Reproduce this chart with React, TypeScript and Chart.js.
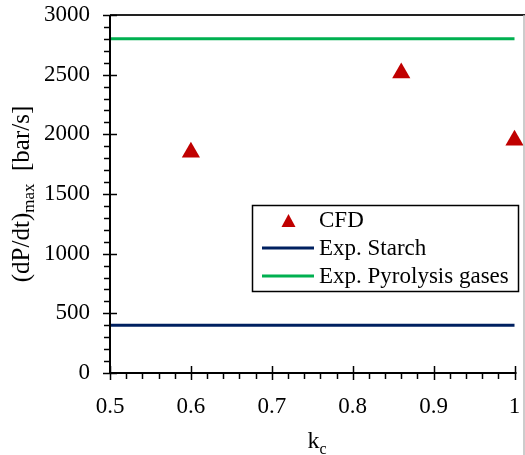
import React, { useEffect, useRef } from "react";
import { Chart, registerables } from "chart.js";

Chart.register(...registerables);

const kcValues = [0.6, 0.86, 1.0];
const cfdValues = [1850, 2515, 1950];
const expStarch = 400;
const expPyrolysis = 2800;
const xRange = [0.5, 1.0];
const yTicks = [0, 500, 1000, 1500, 2000, 2500, 3000];
const xTicks = [0.5, 0.6, 0.7, 0.8, 0.9, 1.0];
const legendLabels = ["CFD", "Exp. Starch", "Exp. Pyrolysis gases"];

const FONT = "'Liberation Serif', 'Times New Roman', serif";
const TARGET = { left: 110, right: 517, top: 15, bottom: 373 };

const axisPlugin = {
  id: "customAxes",
  afterDraw(chart: any) {
    const ctx = chart.ctx;
    const xs = chart.scales.x;
    const ys = chart.scales.y;
    const { left, right, top, bottom } = chart.chartArea;
    ctx.save();
    ctx.strokeStyle = "#000";
    ctx.lineWidth = 2;
    ctx.beginPath();
    ctx.moveTo(left, top);
    ctx.lineTo(left, bottom);
    ctx.lineTo(right + 2, bottom);
    ctx.stroke();
    ctx.strokeStyle = "#222";
    ctx.beginPath();
    ctx.moveTo(left, top);
    ctx.lineTo(525, top);
    ctx.stroke();
    ctx.strokeStyle = "#bbb";
    ctx.lineWidth = 1.5;
    ctx.beginPath();
    ctx.moveTo(524, top);
    ctx.lineTo(524, 455);
    ctx.stroke();

    ctx.strokeStyle = "#000";
    ctx.lineWidth = 1.5;
    for (let v = 0; v <= 3000; v += 100) {
      const y = Math.round(ys.getPixelForValue(v)) + 0.5;
      const major = v % 500 === 0;
      ctx.beginPath();
      if (major) {
        ctx.moveTo(left - 7, y);
        ctx.lineTo(left + 7, y);
      } else {
        ctx.moveTo(left - 6, y);
        ctx.lineTo(left, y);
      }
      ctx.stroke();
    }
    for (let i = 0; i <= 25; i++) {
      const v = 0.5 + i * 0.02;
      const x = Math.round(xs.getPixelForValue(v)) + 0.5;
      const major = i % 5 === 0;
      ctx.beginPath();
      if (major) {
        ctx.moveTo(x, bottom - 7);
        ctx.lineTo(x, bottom + 7);
      } else {
        ctx.moveTo(x, bottom);
        ctx.lineTo(x, bottom + 6);
      }
      ctx.stroke();
    }

    ctx.fillStyle = "#000";
    ctx.textBaseline = "alphabetic";
    ctx.font = `24px ${FONT}`;
    const kW = ctx.measureText("k").width;
    ctx.font = `16px ${FONT}`;
    const cW = ctx.measureText("c").width;
    const tx = 317 - (kW + cW) / 2;
    ctx.font = `24px ${FONT}`;
    ctx.textAlign = "left";
    ctx.fillText("k", tx, 448);
    ctx.font = `16px ${FONT}`;
    ctx.fillText("c", tx + kW, 454);

    ctx.save();
    ctx.translate(29, (top + bottom) / 2);
    ctx.rotate(-Math.PI / 2);
    const parts = [
      { t: "(dP/dt)", f: `25px ${FONT}`, dy: 0 },
      { t: "max", f: `17px ${FONT}`, dy: 5 },
      { t: "  [bar/s]", f: `25px ${FONT}`, dy: 0 },
    ];
    let total = 0;
    for (const p of parts) {
      ctx.font = p.f;
      total += ctx.measureText(p.t).width;
    }
    let cx = -total / 2;
    for (const p of parts) {
      ctx.font = p.f;
      ctx.fillText(p.t, cx, p.dy);
      cx += ctx.measureText(p.t).width;
    }
    ctx.restore();

    const lx = 252, ly = 205, lw = 266, lh = 86;
    ctx.fillStyle = "#fff";
    ctx.fillRect(lx, ly, lw, lh);
    ctx.strokeStyle = "#000";
    ctx.lineWidth = 1.5;
    ctx.strokeRect(lx + 0.5, ly + 0.5, lw, lh);
    const ds = chart.data.datasets;
    ctx.font = `23px ${FONT}`;
    ctx.textAlign = "left";
    ctx.textBaseline = "middle";
    const rows = [220, 248, 276];
    for (let i = 0; i < 3; i++) {
      const ry = rows[i];
      if (i === 0) {
        ctx.fillStyle = ds[0].backgroundColor;
        ctx.beginPath();
        ctx.moveTo(288.5, ry - 6);
        ctx.lineTo(295.5, ry + 7);
        ctx.lineTo(281.5, ry + 7);
        ctx.closePath();
        ctx.fill();
      } else {
        ctx.strokeStyle = ds[i].borderColor;
        ctx.lineWidth = 3;
        ctx.beginPath();
        ctx.moveTo(262, ry);
        ctx.lineTo(314, ry);
        ctx.stroke();
      }
      ctx.fillStyle = "#000";
      ctx.fillText(ds[i].label, 319, ry + 1);
    }
    ctx.restore();
  },
};

const zeroPad = (s: any) => {
  s.paddingTop = 0;
  s.paddingBottom = 0;
  s.paddingLeft = 0;
  s.paddingRight = 0;
};

export default function App() {
  const ref = useRef<HTMLCanvasElement>(null);
  useEffect(() => {
    const canvas = ref.current!;
    const chart: any = new Chart(canvas, {
      type: "scatter",
      data: {
        datasets: [
          {
            label: legendLabels[0],
            data: kcValues.map((k, i) => ({ x: k, y: cfdValues[i] })),
            backgroundColor: "#C00000",
            borderColor: "#C00000",
            pointStyle: "triangle",
            pointRadius: 10.5,
            borderWidth: 0,
            showLine: false,
          },
          {
            label: legendLabels[1],
            data: xRange.map((x) => ({ x, y: expStarch })),
            borderColor: "#002060",
            backgroundColor: "#002060",
            showLine: true,
            borderWidth: 3,
            pointRadius: 0,
          },
          {
            label: legendLabels[2],
            data: xRange.map((x) => ({ x, y: expPyrolysis })),
            borderColor: "#00B050",
            backgroundColor: "#00B050",
            showLine: true,
            borderWidth: 3,
            pointRadius: 0,
          },
        ],
      },
      options: {
        responsive: false,
        animation: false,
        clip: false as any,
        layout: { padding: { left: 0, top: TARGET.top, right: 525 - TARGET.right, bottom: 0 } },
        plugins: { legend: { display: false }, tooltip: { enabled: false } },
        scales: {
          x: {
            type: "linear",
            min: xRange[0],
            max: xRange[1],
            afterFit: (s: any) => {
              s.height = 455 - TARGET.bottom;
              zeroPad(s);
            },
            afterBuildTicks: (s: any) => {
              s.ticks = xTicks.map((v) => ({ value: v }));
            },
            grid: { display: false },
            border: { display: false },
            ticks: {
              padding: 12,
              color: "#000",
              font: { family: FONT, size: 23 },
              maxRotation: 0,
              callback: (v: any) => String(Number(v)),
            },
          },
          y: {
            type: "linear",
            min: 0,
            max: 3000,
            afterFit: (s: any) => {
              s.width = TARGET.left;
              zeroPad(s);
            },
            afterBuildTicks: (s: any) => {
              s.ticks = yTicks.map((v) => ({ value: v }));
            },
            grid: { display: false },
            border: { display: false },
            ticks: {
              padding: 12,
              color: "#000",
              font: { family: FONT, size: 23 },
              callback: (v: any) => String(v),
            },
          },
        },
      },
      plugins: [axisPlugin],
    });
    return () => chart.destroy();
  }, []);
  return (
    <div style={{ position: "fixed", left: 0, top: 0, width: 525, height: 455, background: "#fff" }}>
      <canvas ref={ref} width={525} height={455} style={{ width: 525, height: 455 }} />
    </div>
  );
}
